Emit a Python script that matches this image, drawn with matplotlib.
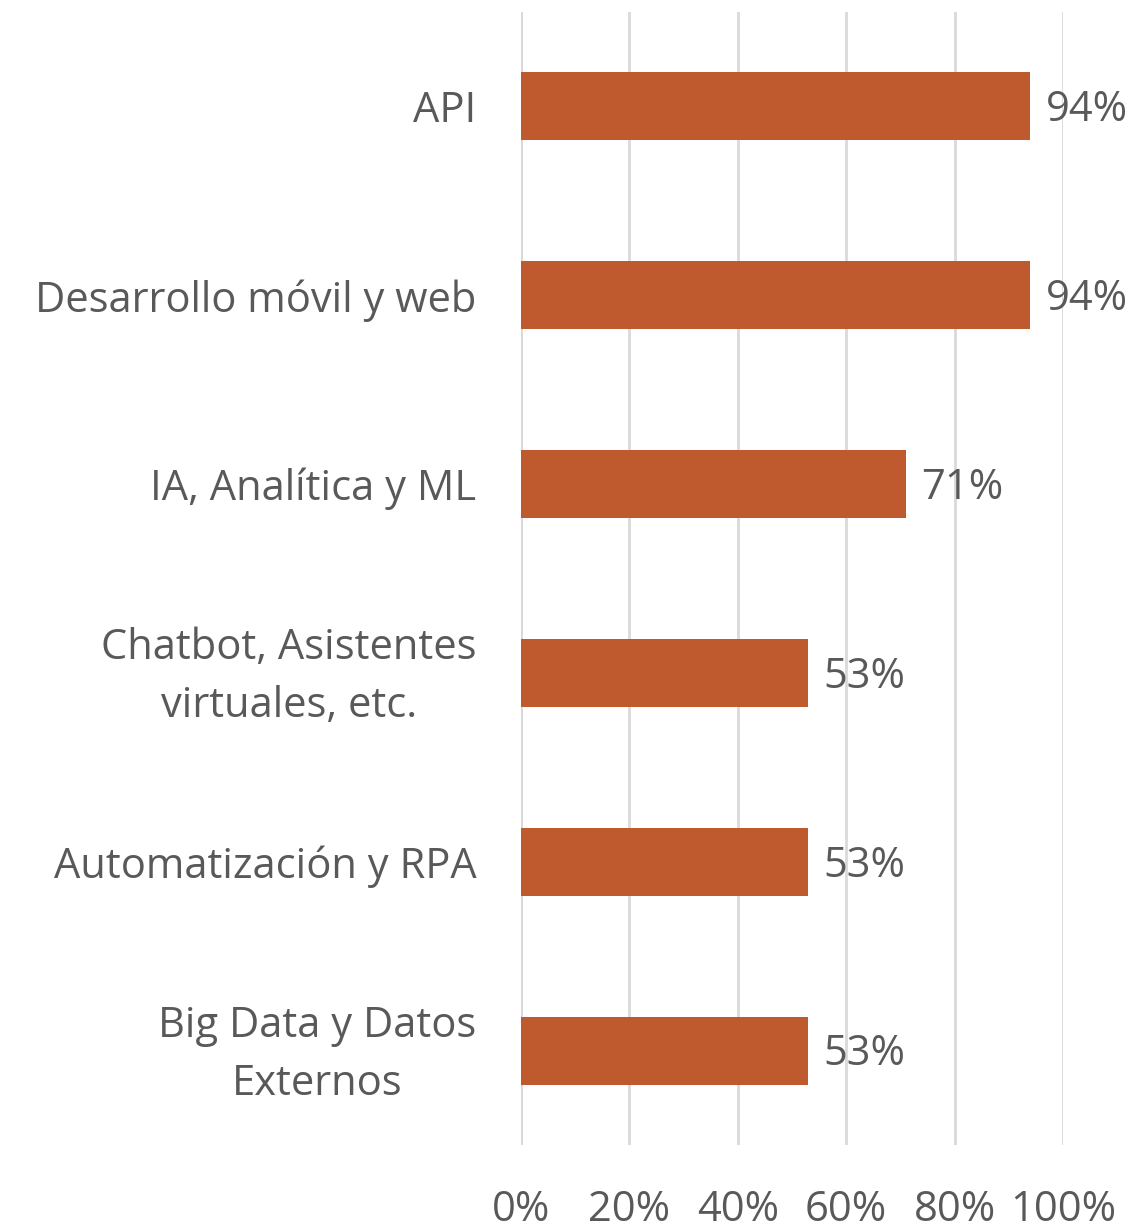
import matplotlib
matplotlib.use("Agg")
import matplotlib.pyplot as plt
import matplotlib.transforms as mtransforms
from matplotlib.ticker import FuncFormatter

categories = ["API", "Desarrollo móvil y web", "IA, Analítica y ML",
              "Chatbot, Asistentes\nvirtuales, etc.", "Automatización y RPA",
              "Big Data y Datos\nExternos"]
values = [94, 94, 71, 53, 53, 53]
xticks = [0, 20, 40, 60, 80, 100]

bar_color = "#BE5A2E"
text_color = "#595959"
grid_color = "#D9D9D9"
fs = 30

plt.rcParams['font.family'] = ['Open Sans', 'DejaVu Sans']

fig = plt.figure(figsize=(11.33, 12.29), dpi=100)
ax = fig.add_axes([521/1133, 1-1145/1229, (1063-521)/1133, (1145-12)/1229])

y = list(range(len(categories)))
ax.barh(y, values, height=0.36, color=bar_color, zorder=3)
for yi, v in zip(y, values):
    ax.text(v + 2.8, yi + 0.02, f"{v}%", va='center', ha='left', fontsize=fs, color=text_color)

ax.set_ylim(len(categories) - 0.5, -0.5)
ax.set_xlim(0, 100)
ax.set_xticks(xticks)
ax.xaxis.set_major_formatter(FuncFormatter(lambda v, p: f"{int(v)}%"))
ax.set_yticks(y)
ax.set_yticklabels(categories, multialignment='center', linespacing=1.5)
ax.tick_params(axis='both', length=0, labelsize=fs, labelcolor=text_color)
ax.tick_params(axis='y', pad=32)
ax.tick_params(axis='x', pad=32)
ax.grid(axis='x', color=grid_color, linewidth=2, zorder=0)
for s in ax.spines.values():
    s.set_visible(False)
ax.axvline(0, color=grid_color, linewidth=2, zorder=1)

shift = mtransforms.ScaledTranslation(0, 9/100, fig.dpi_scale_trans)
for lab in ax.get_yticklabels():
    if "\n" in lab.get_text():
        lab.set_transform(lab.get_transform() + shift)

fig.savefig("out.png", dpi=100)
